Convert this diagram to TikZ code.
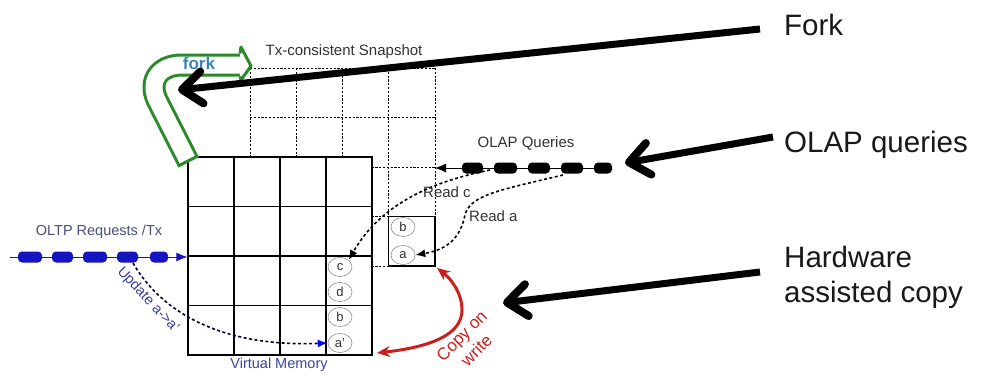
\documentclass[tikz,border=0pt]{standalone}
\usepackage{fontspec}
\setmainfont{Liberation Sans}
\usetikzlibrary{arrows.meta,shapes.geometric}
\definecolor{forkgreen}{HTML}{2A8A2A}
\definecolor{forkteal}{HTML}{3A84B8}
\definecolor{oltpblue}{HTML}{1414C0}
\definecolor{oltptext}{HTML}{4A5078}
\definecolor{vmblue}{HTML}{3A46A0}
\definecolor{updblue}{HTML}{3A3F98}
\definecolor{cowred}{HTML}{C8201C}
\definecolor{labgray}{HTML}{333333}
\tikzset{
  gridd/.style={line width=1pt, dash pattern=on 2.2pt off 1.6pt},
  gridsolid/.style={line width=1.2pt},
  cell/.style={ellipse, draw=black!45, line width=0.6pt, minimum width=24pt, minimum height=19pt, inner sep=0pt, font=\fontsize{13}{13}\selectfont, text=labgray},
  lbl/.style={inner sep=0pt, font=\fontsize{15}{17}\selectfont, text=labgray},
  big/.style={inner sep=0pt, anchor=west, font=\fontsize{29.5}{35}\selectfont, text=black!90, align=left},
  bigarrow/.style={line width=7pt, -{Straight Barb[length=20pt,width=32pt,line width=8pt,round]}},
  dotconn/.style={line width=1.6pt, dash pattern=on 3pt off 2.5pt},
  forkband/.style={draw=forkgreen, line width=3pt, double=white, double distance=17pt},
  pill/.style={rounded corners=4pt}
}
\begin{document}
\begin{tikzpicture}[x=1pt,y=-1pt]
\useasboundingbox (0,0) rectangle (981,380);
\fill[white] (0,0) rectangle (981,380);

% snapshot (dashed) grid
\foreach \i in {0,...,4} {
  \draw[gridd] (250+46.25*\i,68) -- (250+46.25*\i,266);
  \draw[gridd] (250,68+49.5*\i) -- (435,68+49.5*\i);
}
\node[draw, gridsolid, fill=white, minimum width=46.25pt, minimum height=49.5pt, inner sep=0pt] (pg) at (411.9,241.25) {};

% virtual memory (solid) grid
\node[draw, gridsolid, fill=white, minimum width=184pt, minimum height=198pt, inner sep=0pt] (vmgrid) at (280,256) {};
\foreach \i in {1,2,3} {
  \draw[gridsolid] (188+46*\i,157) -- (188+46*\i,355);
  \draw[gridsolid] (188,157+49.5*\i) -- (372,157+49.5*\i);
}

% page entries
\node[cell] (c) at (340,267) {c};
\node[cell] (d) at (340,292) {d};
\node[cell] (b) at (340,317) {b};
\node[cell] (ap) at (340,343) {a'};
\node[cell] (sb) at (403,227) {b};
\node[cell] (sa) at (403,255) {a};

% labels
\node[lbl] (snap) at (344,52) {Tx-consistent Snapshot};
\node[lbl] (olapq) at (526,143) {OLAP Queries};
\node[lbl, anchor=west] (readc) at (423,192) {Read c};
\node[lbl, anchor=west] (reada) at (469,216) {Read a};
\node[lbl, text=oltptext, font=\fontsize{14.5}{17}\selectfont] (oltp) at (99,232) {OLTP Requests /Tx};
\node[lbl, text=vmblue, font=\fontsize{14.5}{17}\selectfont] (vm) at (279,365) {Virtual Memory};
\node[lbl, text=updblue, font=\fontsize{14.5}{17}\selectfont, rotate=-47] (upd) at (148,300) {Update a->a'};
\node[lbl, text=cowred, font=\fontsize{17}{21}\selectfont, rotate=45, align=center] (cow) at (469,343) {Copy on\\write};

\node[big] (forkl) at (784,25) {Fork};
\node[big] (olapl) at (784,145) {OLAP queries};
\node[big] (hwl) at (784,277) {Hardware\\assisted copy};

% OLTP requests stream
\coordinate (oltpstart) at (10,257);
\coordinate (oltpend) at (vmgrid.west |- oltpstart);
\draw[oltpblue, line width=0.8pt, -{Latex[length=11pt,width=9pt]}] (oltpstart) -- (oltpend);
\foreach \a/\b in {18/42,52/73,83/107,117/138,150/168}
  \fill[oltpblue, pill] (\a,251.5) rectangle (\b,262.5);

% OLAP queries stream
\coordinate (olapstart) at (612,168);
\coordinate (olapend) at (435,168);
\draw[black, line width=0.8pt, -{Latex[length=11pt,width=9pt]}] (olapstart) -- (olapend);
\foreach \a/\b in {462/483,494/517,528/550,561/583,594/612}
  \fill[black, pill] (\a,162.5) rectangle (\b,173.5);

% update a -> a'
\coordinate (updstart) at (133,263);
\draw[dotconn, color=black!80!blue, -{Latex[length=10pt,width=8pt,color=blue]}] (updstart) .. controls (165,318) and (230,347) .. (ap.west);

% reads
\coordinate (rcstart) at (490,170);
\coordinate (rastart) at (563,175);
\draw[dotconn, -{Latex[length=10pt,width=8pt]}] (rcstart) .. controls (430,182) and (380,205) .. (c.north east);
\draw[dotconn, -{Latex[length=10pt,width=8pt]}] (rastart) .. controls (500,190) and (470,195) .. (465,215) .. controls (460,240) and (445,250) .. (sa.east);

% copy on write
\coordinate (cowa) at (377,353);
\coordinate (cowb) at (437,268);
\draw[cowred, line width=3pt, {Stealth[length=13pt,width=11pt]}-{Stealth[length=13pt,width=11pt]}] (cowa) .. controls (430,347) and (462,335) .. (462,310) .. controls (462,292) and (450,278) .. (cowb);

% green fork arrow
\draw[forkband] (188,161) -- (157,100) .. controls (148,80) and (160,65) .. (182,65) -- (240,65);
\draw[forkgreen, line width=3pt] (177.8,166.2) -- (198.2,155.8);
\draw[forkgreen, line width=3pt, fill=white, line join=round] (240,53.5) -- (241,47) -- (251,66) -- (241,80) -- (240,76.5);
\node[font=\fontsize{17}{19}\selectfont\bfseries, text=forkteal, inner sep=0pt] (forkt) at (199,63) {fork};

% big annotation arrows
\coordinate (fks) at (760,29);
\coordinate (fkt) at (178,90);
\coordinate (ols) at (773,137);
\coordinate (olt) at (625,163);
\coordinate (hws) at (760,272);
\coordinate (hwt) at (503,303);
\draw[bigarrow] (fks) -- (fkt);
\draw[bigarrow] (ols) -- (olt);
\draw[bigarrow] (hws) -- (hwt);
\end{tikzpicture}
\end{document}
